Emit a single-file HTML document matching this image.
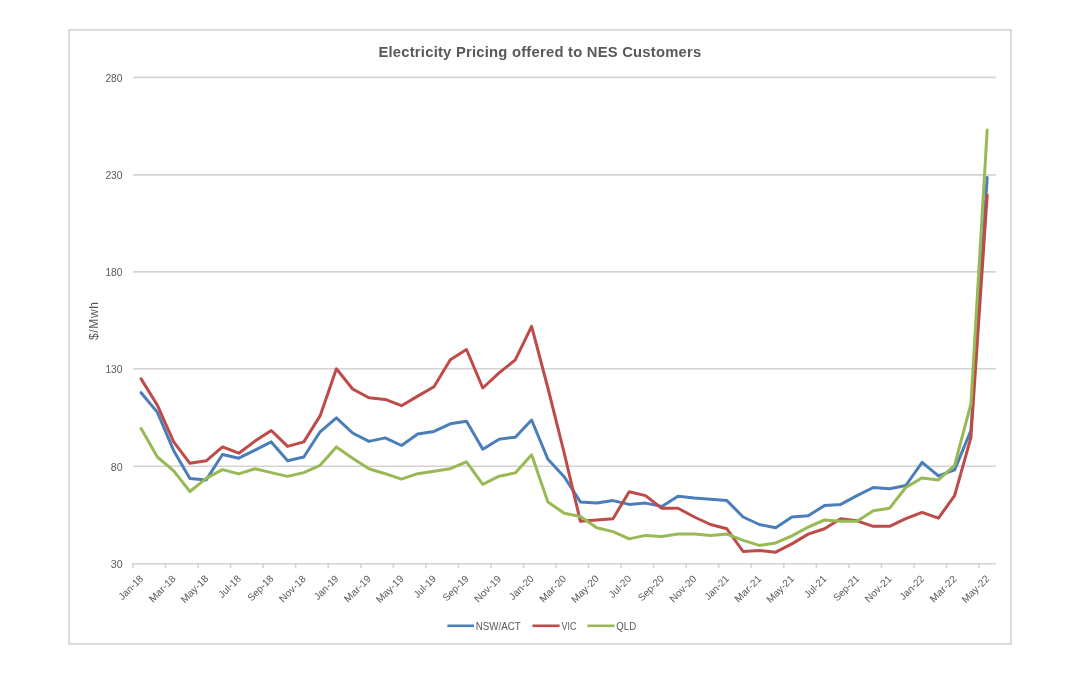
<!DOCTYPE html>
<html><head><meta charset="utf-8"><title>Electricity Pricing offered to NES Customers</title>
<style>
html,body{margin:0;padding:0;background:#fff;}
body{width:1080px;height:675px;overflow:hidden;font-family:"Liberation Sans",sans-serif;}
svg{display:block;will-change:transform;}
text{font-family:"Liberation Sans",sans-serif;fill:#595959;}
</style></head><body>
<svg width="1080" height="675" viewBox="0 0 1080 675">
<rect x="0" y="0" width="1080" height="675" fill="#ffffff"/>
<rect x="69.05" y="29.9" width="941.95" height="614" fill="#ffffff" stroke="#d3d3d3" stroke-width="1.6"/>

<line x1="133.1" y1="77.4" x2="995.8" y2="77.4" stroke="#d3d3d3" stroke-width="1.6"/>
<line x1="133.1" y1="174.9" x2="995.8" y2="174.9" stroke="#d3d3d3" stroke-width="1.6"/>
<line x1="133.1" y1="271.9" x2="995.8" y2="271.9" stroke="#d3d3d3" stroke-width="1.6"/>
<line x1="133.1" y1="368.8" x2="995.8" y2="368.8" stroke="#d3d3d3" stroke-width="1.6"/>
<line x1="133.1" y1="466.2" x2="995.8" y2="466.2" stroke="#d3d3d3" stroke-width="1.6"/>
<line x1="132.25" y1="563.7" x2="995.8" y2="563.7" stroke="#d3d3d3" stroke-width="1.6"/>
<line x1="133.0" y1="563.7" x2="133.0" y2="567.9000000000001" stroke="#d3d3d3" stroke-width="1.6"/>
<line x1="165.5" y1="563.7" x2="165.5" y2="567.9000000000001" stroke="#d3d3d3" stroke-width="1.6"/>
<line x1="198.1" y1="563.7" x2="198.1" y2="567.9000000000001" stroke="#d3d3d3" stroke-width="1.6"/>
<line x1="230.6" y1="563.7" x2="230.6" y2="567.9000000000001" stroke="#d3d3d3" stroke-width="1.6"/>
<line x1="263.2" y1="563.7" x2="263.2" y2="567.9000000000001" stroke="#d3d3d3" stroke-width="1.6"/>
<line x1="295.7" y1="563.7" x2="295.7" y2="567.9000000000001" stroke="#d3d3d3" stroke-width="1.6"/>
<line x1="328.2" y1="563.7" x2="328.2" y2="567.9000000000001" stroke="#d3d3d3" stroke-width="1.6"/>
<line x1="360.8" y1="563.7" x2="360.8" y2="567.9000000000001" stroke="#d3d3d3" stroke-width="1.6"/>
<line x1="393.3" y1="563.7" x2="393.3" y2="567.9000000000001" stroke="#d3d3d3" stroke-width="1.6"/>
<line x1="425.9" y1="563.7" x2="425.9" y2="567.9000000000001" stroke="#d3d3d3" stroke-width="1.6"/>
<line x1="458.4" y1="563.7" x2="458.4" y2="567.9000000000001" stroke="#d3d3d3" stroke-width="1.6"/>
<line x1="490.9" y1="563.7" x2="490.9" y2="567.9000000000001" stroke="#d3d3d3" stroke-width="1.6"/>
<line x1="523.5" y1="563.7" x2="523.5" y2="567.9000000000001" stroke="#d3d3d3" stroke-width="1.6"/>
<line x1="556.0" y1="563.7" x2="556.0" y2="567.9000000000001" stroke="#d3d3d3" stroke-width="1.6"/>
<line x1="588.6" y1="563.7" x2="588.6" y2="567.9000000000001" stroke="#d3d3d3" stroke-width="1.6"/>
<line x1="621.1" y1="563.7" x2="621.1" y2="567.9000000000001" stroke="#d3d3d3" stroke-width="1.6"/>
<line x1="653.6" y1="563.7" x2="653.6" y2="567.9000000000001" stroke="#d3d3d3" stroke-width="1.6"/>
<line x1="686.2" y1="563.7" x2="686.2" y2="567.9000000000001" stroke="#d3d3d3" stroke-width="1.6"/>
<line x1="718.7" y1="563.7" x2="718.7" y2="567.9000000000001" stroke="#d3d3d3" stroke-width="1.6"/>
<line x1="751.3" y1="563.7" x2="751.3" y2="567.9000000000001" stroke="#d3d3d3" stroke-width="1.6"/>
<line x1="783.8" y1="563.7" x2="783.8" y2="567.9000000000001" stroke="#d3d3d3" stroke-width="1.6"/>
<line x1="816.3" y1="563.7" x2="816.3" y2="567.9000000000001" stroke="#d3d3d3" stroke-width="1.6"/>
<line x1="848.9" y1="563.7" x2="848.9" y2="567.9000000000001" stroke="#d3d3d3" stroke-width="1.6"/>
<line x1="881.4" y1="563.7" x2="881.4" y2="567.9000000000001" stroke="#d3d3d3" stroke-width="1.6"/>
<line x1="914.0" y1="563.7" x2="914.0" y2="567.9000000000001" stroke="#d3d3d3" stroke-width="1.6"/>
<line x1="946.5" y1="563.7" x2="946.5" y2="567.9000000000001" stroke="#d3d3d3" stroke-width="1.6"/>
<line x1="979.0" y1="563.7" x2="979.0" y2="567.9000000000001" stroke="#d3d3d3" stroke-width="1.6"/>
<text x="122.6" y="81.7" font-size="10" text-anchor="end" textLength="17.2" lengthAdjust="spacingAndGlyphs">280</text>
<text x="122.6" y="179.2" font-size="10" text-anchor="end" textLength="17.2" lengthAdjust="spacingAndGlyphs">230</text>
<text x="122.6" y="276.2" font-size="10" text-anchor="end" textLength="17.2" lengthAdjust="spacingAndGlyphs">180</text>
<text x="122.6" y="373.1" font-size="10" text-anchor="end" textLength="17.2" lengthAdjust="spacingAndGlyphs">130</text>
<text x="122.6" y="470.5" font-size="10" text-anchor="end" textLength="11.8" lengthAdjust="spacingAndGlyphs">80</text>
<text x="122.6" y="568.0" font-size="10" text-anchor="end" textLength="11.8" lengthAdjust="spacingAndGlyphs">30</text>
<text x="539.8" y="56.7" font-size="14.8" font-weight="bold" text-anchor="middle" textLength="322.8" lengthAdjust="spacing">Electricity Pricing offered to NES Customers</text>
<text transform="translate(98,321) rotate(-90)" font-size="12" text-anchor="middle" textLength="38" lengthAdjust="spacing">$/Mwh</text>
<text transform="translate(143.9,579.3) rotate(-45)" font-size="10" text-anchor="end" textLength="30.1" lengthAdjust="spacingAndGlyphs">Jan-18</text>
<text transform="translate(176.5,579.3) rotate(-45)" font-size="10" text-anchor="end" textLength="33.4" lengthAdjust="spacingAndGlyphs">Mar-18</text>
<text transform="translate(209.0,579.3) rotate(-45)" font-size="10" text-anchor="end" textLength="34.4" lengthAdjust="spacingAndGlyphs">May-18</text>
<text transform="translate(241.6,579.3) rotate(-45)" font-size="10" text-anchor="end" textLength="27.3" lengthAdjust="spacingAndGlyphs">Jul-18</text>
<text transform="translate(274.1,579.3) rotate(-45)" font-size="10" text-anchor="end" textLength="31.9" lengthAdjust="spacingAndGlyphs">Sep-18</text>
<text transform="translate(306.6,579.3) rotate(-45)" font-size="10" text-anchor="end" textLength="33.5" lengthAdjust="spacingAndGlyphs">Nov-18</text>
<text transform="translate(339.2,579.3) rotate(-45)" font-size="10" text-anchor="end" textLength="30.1" lengthAdjust="spacingAndGlyphs">Jan-19</text>
<text transform="translate(371.7,579.3) rotate(-45)" font-size="10" text-anchor="end" textLength="33.4" lengthAdjust="spacingAndGlyphs">Mar-19</text>
<text transform="translate(404.3,579.3) rotate(-45)" font-size="10" text-anchor="end" textLength="34.4" lengthAdjust="spacingAndGlyphs">May-19</text>
<text transform="translate(436.8,579.3) rotate(-45)" font-size="10" text-anchor="end" textLength="27.3" lengthAdjust="spacingAndGlyphs">Jul-19</text>
<text transform="translate(469.3,579.3) rotate(-45)" font-size="10" text-anchor="end" textLength="31.9" lengthAdjust="spacingAndGlyphs">Sep-19</text>
<text transform="translate(501.9,579.3) rotate(-45)" font-size="10" text-anchor="end" textLength="33.5" lengthAdjust="spacingAndGlyphs">Nov-19</text>
<text transform="translate(534.4,579.3) rotate(-45)" font-size="10" text-anchor="end" textLength="30.1" lengthAdjust="spacingAndGlyphs">Jan-20</text>
<text transform="translate(567.0,579.3) rotate(-45)" font-size="10" text-anchor="end" textLength="33.4" lengthAdjust="spacingAndGlyphs">Mar-20</text>
<text transform="translate(599.5,579.3) rotate(-45)" font-size="10" text-anchor="end" textLength="34.4" lengthAdjust="spacingAndGlyphs">May-20</text>
<text transform="translate(632.0,579.3) rotate(-45)" font-size="10" text-anchor="end" textLength="27.3" lengthAdjust="spacingAndGlyphs">Jul-20</text>
<text transform="translate(664.6,579.3) rotate(-45)" font-size="10" text-anchor="end" textLength="31.9" lengthAdjust="spacingAndGlyphs">Sep-20</text>
<text transform="translate(697.1,579.3) rotate(-45)" font-size="10" text-anchor="end" textLength="33.5" lengthAdjust="spacingAndGlyphs">Nov-20</text>
<text transform="translate(729.7,579.3) rotate(-45)" font-size="10" text-anchor="end" textLength="30.1" lengthAdjust="spacingAndGlyphs">Jan-21</text>
<text transform="translate(762.2,579.3) rotate(-45)" font-size="10" text-anchor="end" textLength="33.4" lengthAdjust="spacingAndGlyphs">Mar-21</text>
<text transform="translate(794.7,579.3) rotate(-45)" font-size="10" text-anchor="end" textLength="34.4" lengthAdjust="spacingAndGlyphs">May-21</text>
<text transform="translate(827.3,579.3) rotate(-45)" font-size="10" text-anchor="end" textLength="27.3" lengthAdjust="spacingAndGlyphs">Jul-21</text>
<text transform="translate(859.8,579.3) rotate(-45)" font-size="10" text-anchor="end" textLength="31.9" lengthAdjust="spacingAndGlyphs">Sep-21</text>
<text transform="translate(892.4,579.3) rotate(-45)" font-size="10" text-anchor="end" textLength="33.5" lengthAdjust="spacingAndGlyphs">Nov-21</text>
<text transform="translate(924.9,579.3) rotate(-45)" font-size="10" text-anchor="end" textLength="30.1" lengthAdjust="spacingAndGlyphs">Jan-22</text>
<text transform="translate(957.4,579.3) rotate(-45)" font-size="10" text-anchor="end" textLength="33.4" lengthAdjust="spacingAndGlyphs">Mar-22</text>
<text transform="translate(990.0,579.3) rotate(-45)" font-size="10" text-anchor="end" textLength="34.4" lengthAdjust="spacingAndGlyphs">May-22</text>
<path d="M141.1,392.7 L157.4,412.4 L173.7,450.7 L189.9,478.4 L206.2,479.9 L222.5,454.5 L238.8,458.2 L255.0,450.2 L271.3,441.9 L287.6,460.8 L303.8,457.0 L320.1,431.8 L336.4,417.9 L352.6,433.0 L368.9,441.4 L385.2,437.9 L401.5,445.5 L417.7,434.1 L434.0,431.4 L450.3,423.8 L466.5,421.3 L482.8,449.3 L499.1,439.2 L515.3,437.2 L531.6,420.0 L547.9,459.3 L564.2,476.7 L580.4,501.9 L596.7,503.1 L613.0,500.6 L629.2,504.4 L645.5,503.1 L661.8,506.4 L678.0,496.3 L694.3,498.1 L710.6,499.3 L726.9,500.6 L743.1,517.0 L759.4,524.5 L775.7,527.8 L791.9,517.0 L808.2,515.7 L824.5,505.6 L840.7,504.4 L857.0,495.6 L873.3,487.5 L889.6,488.8 L905.8,485.5 L922.1,462.3 L938.4,475.9 L954.6,469.9 L970.9,430.6 L987.2,177.4" fill="none" stroke="#4a7ebb" stroke-width="3" stroke-linejoin="round" stroke-linecap="round"/>
<path d="M141.1,378.9 L157.4,405.3 L173.7,441.9 L189.9,463.3 L206.2,460.8 L222.5,446.9 L238.8,453.2 L255.0,441.1 L271.3,430.5 L287.6,446.4 L303.8,441.9 L320.1,415.9 L336.4,368.8 L352.6,389.0 L368.9,397.8 L385.2,399.4 L401.5,405.7 L417.7,396.1 L434.0,386.8 L450.3,359.8 L466.5,349.5 L482.8,388.0 L499.1,372.9 L515.3,359.8 L531.6,326.3 L547.9,388.0 L564.2,453.0 L580.4,521.3 L596.7,520.0 L613.0,518.7 L629.2,491.8 L645.5,495.6 L661.8,508.2 L678.0,508.2 L694.3,517.0 L710.6,524.5 L726.9,528.8 L743.1,551.5 L759.4,550.5 L775.7,552.2 L791.9,543.9 L808.2,534.1 L824.5,528.8 L840.7,518.7 L857.0,520.8 L873.3,526.3 L889.6,526.3 L905.8,518.7 L922.1,512.4 L938.4,518.2 L954.6,495.6 L970.9,437.6 L987.2,195.2" fill="none" stroke="#be4b48" stroke-width="3" stroke-linejoin="round" stroke-linecap="round"/>
<path d="M141.1,428.5 L157.4,457.0 L173.7,470.8 L189.9,491.5 L206.2,478.4 L222.5,469.6 L238.8,473.9 L255.0,468.8 L271.3,472.6 L287.6,476.4 L303.8,472.6 L320.1,465.3 L336.4,446.9 L352.6,458.2 L368.9,468.8 L385.2,473.7 L401.5,479.2 L417.7,473.7 L434.0,471.2 L450.3,468.7 L466.5,461.9 L482.8,484.3 L499.1,476.2 L515.3,472.9 L531.6,454.8 L547.9,501.9 L564.2,513.2 L580.4,516.5 L596.7,527.8 L613.0,531.6 L629.2,538.9 L645.5,535.4 L661.8,536.6 L678.0,534.1 L694.3,534.1 L710.6,535.4 L726.9,534.1 L743.1,540.4 L759.4,545.4 L775.7,542.9 L791.9,535.9 L808.2,527.1 L824.5,520.0 L840.7,521.3 L857.0,521.3 L873.3,510.7 L889.6,508.2 L905.8,487.5 L922.1,477.9 L938.4,479.9 L954.6,465.3 L970.9,404.0 L987.2,130.0" fill="none" stroke="#98b954" stroke-width="3" stroke-linejoin="round" stroke-linecap="round"/>
<line x1="447.4" y1="625.8" x2="474.0" y2="625.8" stroke="#4a7ebb" stroke-width="2.6"/>
<line x1="532.5" y1="625.8" x2="559.6" y2="625.8" stroke="#be4b48" stroke-width="2.6"/>
<line x1="587.4" y1="625.8" x2="614.5" y2="625.8" stroke="#98b954" stroke-width="2.6"/>
<text x="475.8" y="630" font-size="10.3" textLength="45" lengthAdjust="spacingAndGlyphs">NSW/ACT</text>
<text x="561.5" y="630" font-size="10.3" textLength="14.8" lengthAdjust="spacingAndGlyphs">VIC</text>
<text x="616.3" y="630" font-size="10.3" textLength="19.8" lengthAdjust="spacingAndGlyphs">QLD</text>
</svg></body></html>
